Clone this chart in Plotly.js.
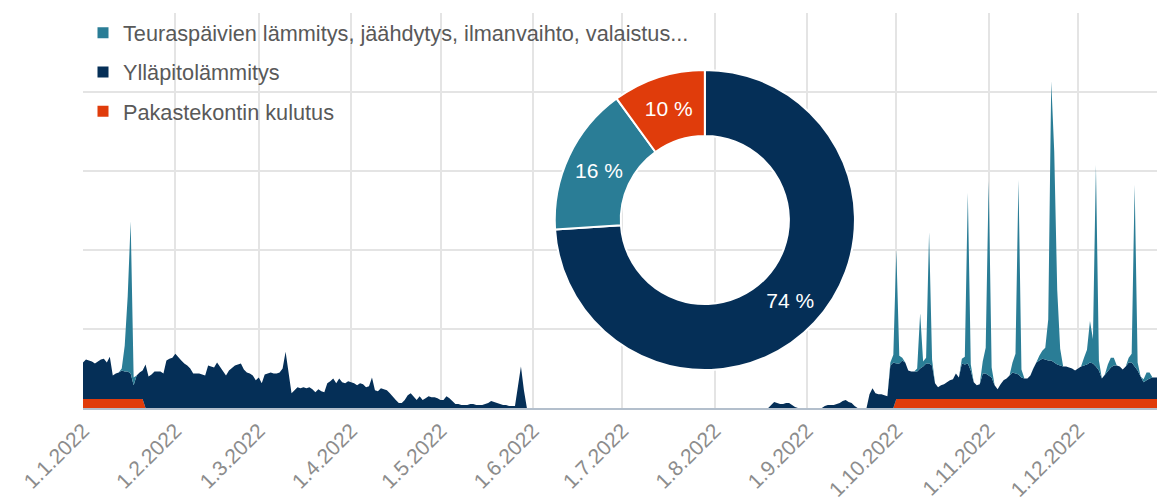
<!DOCTYPE html>
<html>
<head>
<meta charset="utf-8">
<script src="https://cdn.plot.ly/plotly-3.0.1.min.js"></script>
<style>html,body{margin:0;padding:0;background:#fff;}#chart{width:1157px;height:500px;}</style>
</head>
<body>
<div id="chart"></div>
<script>
// Series names (legend order)
var seriesNames = ["Teuraspäivien lämmitys, jäähdytys, ilmanvaihto, valaistus...", "Ylläpitolämmitys", "Pakastekontin kulutus"];
var colors = {teal: "#2a7d96", navy: "#052f57", red: "#e03c0b"};

// Daily values for 2022 (one value per day, Jan 1 ... Dec 31)
var pakaste = [
  9,9,9,9,9,9,9,9,9,9,9,9,9,9,9,9,9,9,9,9,9,0,0,0,0,0,0,0,0,0,0, // Jan
  0,0,0,0,0,0,0,0,0,0,0,0,0,0,0,0,0,0,0,0,0,0,0,0,0,0,0,0, // Feb
  0,0,0,0,0,0,0,0,0,0,0,0,0,0,0,0,0,0,0,0,0,0,0,0,0,0,0,0,0,0,0, // Mar
  0,0,0,0,0,0,0,0,0,0,0,0,0,0,0,0,0,0,0,0,0,0,0,0,0,0,0,0,0,0, // Apr
  0,0,0,0,0,0,0,0,0,0,0,0,0,0,0,0,0,0,0,0,0,0,0,0,0,0,0,0,0,0,0, // May
  0,0,0,0,0,0,0,0,0,0,0,0,0,0,0,0,0,0,0,0,0,0,0,0,0,0,0,0,0,0, // Jun
  0,0,0,0,0,0,0,0,0,0,0,0,0,0,0,0,0,0,0,0,0,0,0,0,0,0,0,0,0,0,0, // Jul
  0,0,0,0,0,0,0,0,0,0,0,0,0,0,0,0,0,0,0,0,0,0,0,0,0,0,0,0,0,0,0, // Aug
  0,0,0,0,0,0,0,0,0,0,0,0,0,0,0,0,0,0,0,0,0,0,0,0,0,0,0,0,0,0, // Sep
  9,9,9,9,9,9,9,9,9,9,9,9,9,9,9,9,9,9,9,9,9,9,9,9,9,9,9,9,9,9,9, // Oct
  9,9,9,9,9,9,9,9,9,9,9,9,9,9,9,9,9,9,9,9,9,9,9,9,9,9,9,9,9,9, // Nov
  9,9,9,9,9,9,9,9,9,9,9,9,9,9,9,9,9,9,9,9,9,9,9,9,9,9,9,9,9,9,9  // Dec
];
var yllapito = [
  37,40,39,38,36,38,40,41,37,43,24,26,27,29,28,28,26,14,24,27,29,44,32,34,37,37,37,35,48,50,51, // Jan
  55,51,48,45,43,40,35,35,35,34,33,43,42,41,46,42,38,33,38,41,43,44,45,39,36,35,33,28, // Feb
  31,25,34,35,36,35,35,36,40,57,38,15,18,21,20,21,20,21,19,16,19,17,16,25,27,30,25,30,26,25,27, // Mar
  26,25,23,25,24,21,22,31,18,17,20,19,18,15,11,8,5,5,8,13,15,11,8,12,8,10,12,11,11,10, // Apr
  8,8,12,10,7,4,4,3,3,3,4,4,3,3,3,4,5,7,6,5,4,3,3,2,2,2,22,42,18,0,0, // May
  0,0,0,0,0,0,0,0,0,0,0,0,0,0,0,0,0,0,0,0,0,0,0,0,0,0,0,0,0,0, // Jun
  0,0,0,0,0,0,0,0,0,0,0,0,0,0,0,0,0,0,0,0,0,0,0,0,0,0,0,0,0,0,0, // Jul
  0,0,0,0,0,0,0,0,0,0,0,0,0,0,0,0,0,0,0,3,6,5,4,4,5,5,3,1,0,0,0, // Aug
  0,0,0,0,0,0,2,3,3,3,4,5,7,8,6,5,2,0,0,0,0,14,20,15,14,14,13,12,43,46, // Sep
  36,36,39,37,29,28,28,28,31,33,36,36,34,16,12,14,15,17,19,20,26,22,36,35,36,29,17,14,15,26,26, // Oct
  24,22,14,10,15,19,21,24,27,26,25,22,21,21,24,31,37,39,41,40,39,39,37,35,34,33,33,32,31,29, // Nov
  31,33,34,35,37,36,33,29,21,25,29,32,34,34,33,30,33,37,37,33,29,23,17,19,21,22,22,22,23,23,22  // Dec
];
var teuras = [
  0,0,0,0,0,0,0,0,0,0,0,0,0,2,26,76,154,8,0,0,0,0,0,0,0,0,0,0,0,0,0, // Jan
  0,0,0,0,0,0,0,0,0,0,0,0,0,0,0,0,0,0,0,0,0,0,0,0,0,0,0,0, // Feb
  0,0,0,0,0,0,0,0,0,0,0,0,0,0,0,0,0,0,0,0,0,0,0,0,0,0,0,0,0,0,0, // Mar
  0,0,0,0,0,0,0,0,0,0,0,0,0,0,0,0,0,0,0,0,0,0,0,0,0,0,0,0,0,0, // Apr
  0,0,0,0,0,0,0,0,0,0,0,0,0,0,0,0,0,0,0,0,0,0,0,0,0,0,0,0,0,0,0, // May
  0,0,0,0,0,0,0,0,0,0,0,0,0,0,0,0,0,0,0,0,0,0,0,0,0,0,0,0,0,0, // Jun
  0,0,0,0,0,0,0,0,0,0,0,0,0,0,0,0,0,0,0,0,0,0,0,0,0,0,0,0,0,0,0, // Jul
  0,0,0,0,0,0,0,0,0,0,0,0,0,0,0,0,0,0,0,0,0,0,0,0,0,0,0,0,0,0,0, // Aug
  0,0,0,0,0,0,0,0,0,0,0,0,0,0,0,0,0,0,0,0,0,0,0,0,0,0,0,0,3,8, // Sep
  115,8,3,0,0,0,0,3,56,5,6,133,6,0,0,0,0,0,0,0,0,0,5,8,173,6,0,0,0,12,26, // Oct
  197,10,0,0,0,0,0,0,10,20,197,8,0,0,0,0,0,5,8,12,42,283,214,76,17,0,0,0,0,0, // Nov
  0,0,8,15,42,25,204,10,0,0,6,10,8,0,0,0,0,5,9,184,8,0,3,8,6,0,0,0,0,0,0  // Dec
];

// Donut shares (%)
var pieLabels = ["Ylläpitolämmitys", "Teuraspäivien lämmitys, jäähdytys, ilmanvaihto, valaistus...", "Pakastekontin kulutus"];
var pieValues = [74, 16, 10];

// Axis ticks
var tickDates = ["2022-01-01","2022-02-01","2022-03-01","2022-04-01","2022-05-01","2022-06-01","2022-07-01","2022-08-01","2022-09-01","2022-10-01","2022-11-01","2022-12-01"];
var tickLabels = ["1.1.2022","1.2.2022","1.3.2022","1.4.2022","1.5.2022","1.6.2022","1.7.2022","1.8.2022","1.9.2022","1.10.2022","1.11.2022","1.12.2022"];

// Day categories
var days = [];
(function(){
  var d = new Date(Date.UTC(2022,0,1));
  for (var i = 0; i < pakaste.length; i++) {
    days.push(d.toISOString().slice(0,10));
    d.setUTCDate(d.getUTCDate() + 1);
  }
})();

var FONT = "Liberation Sans, Arial, sans-serif";

function area(y, color, name) {
  return {type: "scatter", x: days, y: y, name: name, stackgroup: "one", mode: "lines",
          line: {width: 0, color: color}, fillcolor: color, showlegend: false, hoverinfo: "skip"};
}
function legendEntry(name, color, grp) {
  return {type: "scatter", x: [null], y: [null], name: name, mode: "markers", legendgroup: grp,
          marker: {symbol: "square", size: 11, color: color}, showlegend: true, hoverinfo: "skip"};
}

var data = [
  area(pakaste, colors.red, seriesNames[2]),
  area(yllapito, colors.navy, seriesNames[1]),
  area(teuras, colors.teal, seriesNames[0]),
  legendEntry(seriesNames[0], colors.teal, "g1"),
  legendEntry(seriesNames[1], colors.navy, "g2"),
  legendEntry(seriesNames[2], colors.red, "g3"),
  {type: "pie", labels: pieLabels, values: pieValues, hole: 0.56, sort: false, direction: "clockwise", rotation: 0,
   marker: {colors: [colors.navy, colors.teal, colors.red], line: {color: "#ffffff", width: 2}},
   texttemplate: "%{value} %", textposition: "inside", insidetextorientation: "horizontal",
   textfont: {family: FONT, size: 21, color: "#ffffff"}, showlegend: false, hoverinfo: "skip",
   domain: {x: [0.439, 0.719], y: [0.096, 0.856]}}
];

var layout = {
  width: 1157, height: 500, autosize: false,
  margin: {l: 83, r: 0, t: 13, b: 92, pad: 0},
  paper_bgcolor: "#ffffff", plot_bgcolor: "#ffffff",
  font: {family: FONT, color: "#595959"},
  showlegend: true,
  legend: {x: 0.0, xanchor: "left", y: 1.002, yanchor: "top", traceorder: "grouped", tracegroupgap: 8,
           bgcolor: "rgba(0,0,0,0)", font: {family: FONT, size: 21.7, color: "#595959"}},
  xaxis: {type: "date", range: ["2022-01-01", "2022-12-27 12:00"], tickmode: "array", tickvals: tickDates, ticktext: tickLabels,
          tickangle: -45, tickfont: {family: FONT, size: 21, color: "#8c8c8c"}, ticks: "",
          showgrid: true, gridcolor: "#e4e4e4", gridwidth: 2, showline: true, linecolor: "#b3bfcc", linewidth: 2,
          zeroline: false, fixedrange: true},
  yaxis: {range: [0, 400], dtick: 80, showticklabels: false, ticks: "", showgrid: true, gridcolor: "#e4e4e4", gridwidth: 2,
          zeroline: false, showline: false, fixedrange: true}
};

Plotly.newPlot("chart", data, layout, {displayModeBar: false, staticPlot: true});
</script>
</body>
</html>
